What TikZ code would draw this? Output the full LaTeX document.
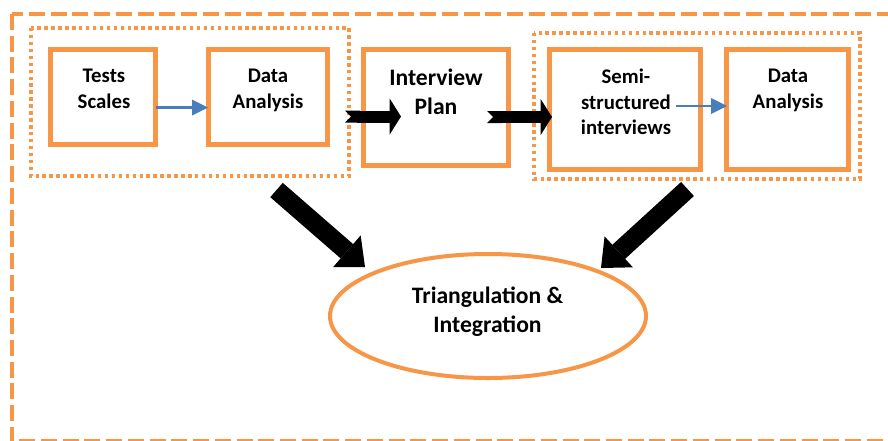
\documentclass[tikz,border=0pt]{standalone}
\usepackage{fontspec}
\setmainfont{Carlito}
\usetikzlibrary{arrows.meta,shapes.geometric,calc}
\definecolor{accent}{HTML}{F79646}
\definecolor{flowblue}{HTML}{4A7EBB}
\begin{document}
\begin{tikzpicture}[x=0.75pt,y=-0.75pt,
  stepbox/.style={draw=accent,line width=3.75pt,inner sep=0pt},
  groupline/.style={draw=accent,line width=2.7pt,dash pattern=on 2.6pt off 2.6pt},
  frameline/.style={draw=accent,line width=3.4pt,dash pattern=on 12pt off 4.3pt},
  txt/.style={inner sep=0pt,align=center,anchor=north,font=\bfseries\fontsize{15.6pt}{19pt}\selectfont},
  bigtxt/.style={txt,font=\bfseries\fontsize{17.7pt}{21.6pt}\selectfont},
  thin arrow/.style={draw=flowblue,line width=1.9pt,-{Triangle[length=12pt,width=12pt,line width=0pt]}},
  fat arrow/.style={draw=black,line width=9pt,{Triangle Cap[reversed]}-{Triangle[length=8.5pt,width=27pt,line width=0pt]}},
  big arrow/.style={draw=black,line width=14.25pt,-{Triangle[length=18pt,width=31.5pt,line width=0pt]}}
]
\useasboundingbox (0,0) rectangle (888,440);

% outer frame and the two dotted groups
\draw[frameline] (12,14) rectangle (905,441.5);
\draw[groupline] (31,28) rectangle (349,176);
\draw[groupline] (534,33) rectangle (860,179);

% step boxes
\node[stepbox,minimum width=78.75pt,minimum height=71.25pt] (tests) at (103,97) {};
\node[txt] (testsT) at (104,69) {Tests\\Scales};
\node[stepbox,minimum width=89.25pt,minimum height=71.25pt] (anaA) at (268,97) {};
\node[txt] (anaAT) at (268,69) {Data\\Analysis};
\node[stepbox,minimum width=108.75pt,minimum height=87pt] (plan) at (436,107.5) {};
\node[bigtxt] (planT) at (436,69) {Interview\\Plan};
\node[stepbox,minimum width=113.25pt,minimum height=90pt] (semi) at (625,109.5) {};
\node[txt] (semiT) at (626,69) {Semi-\\structured\\interviews};
\node[stepbox,minimum width=91.5pt,minimum height=90pt] (anaB) at (787.5,109.5) {};
\node[txt] (anaBT) at (788,69) {Data\\Analysis};

% result ellipse
\node[ellipse,draw=accent,line width=3pt,minimum width=237pt,minimum height=93pt,inner sep=0pt] (tri) at (488,316) {};
\node[bigtxt] (triT) at (487.5,287) {Triangulation \&\\Integration};

% thin arrows inside the groups
\draw[thin arrow] ($(tests.east)+(-2,10.5)$) -- ($(anaA.west)+(2,10.5)$);
\draw[thin arrow] ($(semi.east)+(-27,-3.5)$) -- ($(anaB.west)+(3,-3.5)$);

% block arrows between stages
\draw[fat arrow] ($(anaA.east)+(15,19.5)$) -- ($(plan.west)+(40,9)$);
\draw[fat arrow] ($(plan.east)+(-24,9.5)$) -- ($(semi.west)+(5,7.5)$);

% arrows down to the ellipse
\coordinate (leftTail) at (276.5,190);
\coordinate (leftTip) at (365,267);
\coordinate (rightTail) at (687.5,189);
\coordinate (rightTip) at (601,268);
\draw[big arrow] (leftTail) -- (leftTip);
\draw[big arrow] (rightTail) -- (rightTip);
\end{tikzpicture}
\end{document}
